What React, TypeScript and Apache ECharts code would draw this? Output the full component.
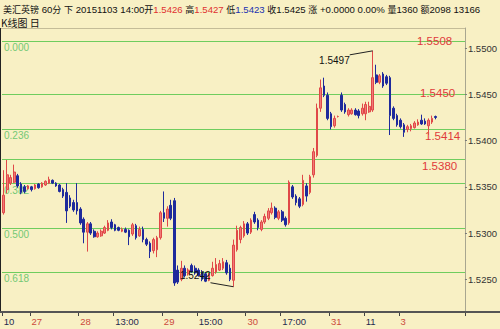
import React, { useEffect, useRef } from "react";
import * as echarts from "echarts";

// ---------- data ----------
const slotCount = 133;

const opens = [
  1.5322, 1.5347, 1.5354, 1.5355, 1.5362, 1.5353, 1.5350, 1.5348, 1.5350, 1.5348,
  1.5353, 1.5350, 1.5352, 1.5354, 1.5357, 1.5354, 1.5352, 1.5347, 1.5344, 1.5338,
  1.5333, 1.5333, 1.5326, 1.5315, 1.5301, 1.5310, 1.5302, 1.5296, 1.5297, 1.5300,
  1.5303, 1.5312, 1.5309, 1.5306, 1.5302, 1.5304, 1.5303, 1.5299, 1.5308, 1.5297,
  1.5304, 1.5293, 1.5289, 1.5281, 1.5282, 1.5295, 1.5322, 1.5316, 1.5330, 1.5335,
  1.5260, 1.5250, 1.5262, 1.5256, 1.5265, 1.5262, 1.5260, 1.5258, 1.5256, 1.5249,
  1.5254, 1.5258, 1.5260, 1.5262, 1.5268, 1.5262, 1.5249, 1.5282, 1.5293, 1.5297,
  1.5310, 1.5301, 1.5320, 1.5314, 1.5304, 1.5312, 1.5316, 1.5322, 1.5327, 1.5316,
  1.5323, 1.5316, 1.5311, 1.5350, 1.5340, 1.5337, 1.5331, 1.5351, 1.5344, 1.5363,
  1.5384, 1.5435, 1.5459, 1.5449, 1.5429, 1.5416, 1.5426, 1.5449, 1.5439, 1.5428,
  1.5429, 1.5433, 1.5432, 1.5429, 1.5429, 1.5431, 1.5433, 1.5471, 1.5463, 1.5472,
  1.5469, 1.5468, 1.5435, 1.5427, 1.5422, 1.5417, 1.5412, 1.5413, 1.5414, 1.5417,
  1.5422, 1.5421, 1.5416, 1.5420, 1.5426,
];
const closes = [
  1.5341, 1.5363, 1.5360, 1.5366, 1.5351, 1.5344, 1.5345, 1.5351, 1.5347, 1.5352,
  1.5349, 1.5354, 1.5356, 1.5358, 1.5354, 1.5351, 1.5345, 1.5340, 1.5324, 1.5329,
  1.5325, 1.5324, 1.5311, 1.5301, 1.5310, 1.5300, 1.5296, 1.5300, 1.5302, 1.5306,
  1.5311, 1.5306, 1.5303, 1.5303, 1.5304, 1.5301, 1.5296, 1.5309, 1.5295, 1.5304,
  1.5293, 1.5288, 1.5280, 1.5293, 1.5295, 1.5322, 1.5316, 1.5326, 1.5316, 1.5246,
  1.5247, 1.5262, 1.5254, 1.5260, 1.5258, 1.5257, 1.5254, 1.5250, 1.5248, 1.5255,
  1.5262, 1.5266, 1.5267, 1.5269, 1.5257, 1.5250, 1.5287, 1.5303, 1.5306, 1.5310,
  1.5300, 1.5314, 1.5312, 1.5306, 1.5312, 1.5318, 1.5324, 1.5327, 1.5317, 1.5323,
  1.5314, 1.5309, 1.5355, 1.5339, 1.5333, 1.5329, 1.5357, 1.5340, 1.5361, 1.5388,
  1.5435, 1.5457, 1.5449, 1.5424, 1.5415, 1.5424, 1.5426, 1.5433, 1.5431, 1.5433,
  1.5433, 1.5428, 1.5427, 1.5435, 1.5439, 1.5437, 1.5468, 1.5463, 1.5470, 1.5459,
  1.5462, 1.5427, 1.5424, 1.5417, 1.5415, 1.5409, 1.5415, 1.5416, 1.5419, 1.5420,
  1.5418, 1.5418, 1.5422, 1.5424, 1.5425,
];
const lows = [
  1.5320, 1.5343, 1.5352, 1.5354, 1.5349, 1.5342, 1.5343, 1.5347, 1.5345, 1.5347,
  1.5348, 1.5349, 1.5351, 1.5353, 1.5353, 1.5350, 1.5344, 1.5338, 1.5311, 1.5327,
  1.5323, 1.5320, 1.5309, 1.5289, 1.5280, 1.5298, 1.5295, 1.5295, 1.5296, 1.5299,
  1.5302, 1.5304, 1.5302, 1.5302, 1.5301, 1.5300, 1.5287, 1.5297, 1.5293, 1.5296,
  1.5290, 1.5286, 1.5273, 1.5278, 1.5274, 1.5293, 1.5312, 1.5307, 1.5314, 1.5243,
  1.5245, 1.5248, 1.5252, 1.5254, 1.5257, 1.5255, 1.5253, 1.5248, 1.5247, 1.5248,
  1.5253, 1.5256, 1.5259, 1.5260, 1.5255, 1.5248, 1.5242, 1.5280, 1.5289, 1.5295,
  1.5298, 1.5299, 1.5310, 1.5303, 1.5302, 1.5310, 1.5314, 1.5320, 1.5315, 1.5314,
  1.5312, 1.5307, 1.5309, 1.5337, 1.5330, 1.5327, 1.5329, 1.5334, 1.5342, 1.5360,
  1.5382, 1.5431, 1.5447, 1.5422, 1.5412, 1.5414, 1.5425, 1.5431, 1.5429, 1.5426,
  1.5428, 1.5427, 1.5424, 1.5427, 1.5422, 1.5430, 1.5431, 1.5461, 1.5461, 1.5457,
  1.5460, 1.5406, 1.5422, 1.5415, 1.5413, 1.5404, 1.5409, 1.5410, 1.5413, 1.5416,
  1.5417, 1.5417, 1.5406, 1.5418, 1.5423,
];
const highs = [
  1.5368, 1.5379, 1.5363, 1.5374, 1.5364, 1.5355, 1.5352, 1.5352, 1.5351, 1.5353,
  1.5354, 1.5355, 1.5357, 1.5361, 1.5358, 1.5355, 1.5353, 1.5349, 1.5354, 1.5341,
  1.5336, 1.5354, 1.5328, 1.5317, 1.5312, 1.5312, 1.5304, 1.5302, 1.5304, 1.5308,
  1.5314, 1.5315, 1.5310, 1.5307, 1.5306, 1.5306, 1.5304, 1.5311, 1.5310, 1.5307,
  1.5307, 1.5295, 1.5291, 1.5295, 1.5297, 1.5324, 1.5345, 1.5329, 1.5336, 1.5338,
  1.5265, 1.5270, 1.5265, 1.5262, 1.5267, 1.5265, 1.5262, 1.5260, 1.5258, 1.5257,
  1.5269, 1.5273, 1.5271, 1.5273, 1.5271, 1.5266, 1.5293, 1.5308, 1.5308, 1.5313,
  1.5312, 1.5316, 1.5323, 1.5316, 1.5314, 1.5321, 1.5327, 1.5333, 1.5329, 1.5325,
  1.5325, 1.5318, 1.5357, 1.5352, 1.5342, 1.5339, 1.5363, 1.5354, 1.5363, 1.5392,
  1.5440, 1.5466, 1.5468, 1.5452, 1.5431, 1.5427, 1.5427, 1.5452, 1.5441, 1.5435,
  1.5435, 1.5435, 1.5434, 1.5440, 1.5442, 1.5442, 1.5497, 1.5482, 1.5472, 1.5474,
  1.5471, 1.5470, 1.5437, 1.5429, 1.5424, 1.5419, 1.5417, 1.5418, 1.5421, 1.5423,
  1.5428, 1.5424, 1.5424, 1.5427, 1.5427,
];

const xLabelIndex = [0, 8, 22, 32, 46, 56, 70, 80, 94, 104, 114];
const xLabelText = ["10", "27", "28", "13:00", "29", "15:00", "30", "17:00", "31", "11", "3"];
const xLabelIsDate = [false, true, true, false, true, false, true, false, true, false, true];

const fibValues = [1.5508, 1.5413, 1.5354, 1.5306, 1.5258];
const fibNames = ["0.000", "0.236", "0.382", "0.500", "0.618"];
const extraLevels = [1.545, 1.538];
const priceTags = ["1.5508", "1.5450", "1.5414", "1.5380"];
const priceTagValues = [1.5508, 1.545, 1.5414, 1.538];

const yMin = 1.52147;
const yMax = 1.55217;

const qName = "美汇英镑";
const qPeriod = "60";
const qDate = "20151103";
const qTime = "14:00";
const qOpen = "1.5426";
const qHigh = "1.5427";
const qLow = "1.5423";
const qClose = "1.5425";
const qChange = "+0.0000";
const qPct = "0.00%";
const qVol = "1360";
const qAmt = "2098";
const qExtra = "13166";

// ---------- styles ----------
const BG = "#f8f0c4";
const UP = "#f07a78";
const UP_BORDER = "#e04848";
const DOWN = "#1e2a9c";
const GREEN = "#6fcd5e";
const FIB_TEXT = "#74c874";
const TAG_RED = "#e03a3a";
const LATIN = '"Liberation Sans", Arial, sans-serif';
const CJK = '"Noto Sans CJK SC", sans-serif';
const tagDx = [-48, -45, -40, -43];
const tagDy = [0, -1, 8, 7];

export default function App() {
  const ref = useRef<HTMLDivElement>(null);

  useEffect(() => {
    if (!ref.current) return;
    const chart = echarts.init(ref.current, null, { renderer: "svg", width: 500, height: 329 });
    const labelMap = new Map<number, number>();
    xLabelIndex.forEach((idx, k) => labelMap.set(idx, k));
    const categories = Array.from({ length: slotCount }, (_, i) =>
      labelMap.has(i) ? xLabelText[labelMap.get(i)!] : "s" + i
    );
    const candleData = opens.map((o, i) => [o, closes[i], lows[i], highs[i]]);

    chart.setOption({
      animation: false,
      backgroundColor: BG,
      grid: { left: 2, right: 35, top: 28, bottom: 17 },
      xAxis: {
        type: "category",
        data: categories,
        boundaryGap: true,
        axisLine: { show: true, lineStyle: { color: "#555", width: 2 } },
        axisTick: {
          show: true,
          alignWithLabel: false,
          interval: (i: number) => labelMap.has(i),
          length: 4,
          lineStyle: { color: "#444" },
        },
        axisLabel: {
          interval: (i: number) => labelMap.has(i),
          align: "left",
          margin: 4,
          fontSize: 9.5,
          fontFamily: LATIN,
          formatter: (_v: string, i: number) => {
            const k = labelMap.get(i);
            if (k === undefined) return "";
            return xLabelIsDate[k] ? `{r|${xLabelText[k]}}` : `{d|${xLabelText[k]}}`;
          },
          rich: {
            r: { color: "#cc4a3c", fontSize: 9.5, fontFamily: LATIN },
            d: { color: "#1e2a50", fontSize: 9.5, fontFamily: LATIN },
          },
        },
        splitLine: { show: false },
      },
      yAxis: {
        type: "value",
        position: "right",
        min: yMin,
        max: yMax,
        scale: true,
        axisLine: { show: true, lineStyle: { color: "#a8a690", width: 1 } },
        axisTick: { show: true, length: 2, lineStyle: { color: "#777" } },
        splitLine: { show: false },
        axisLabel: {
          showMinLabel: false,
          showMaxLabel: false,
          margin: 3,
          fontSize: 9.5,
          fontFamily: LATIN,
          color: "#333",
          padding: [8, 0, 0, 0],
          formatter: (v: number) =>
            Math.abs(v * 200 - Math.round(v * 200)) < 1e-6 ? v.toFixed(4) : "",
        },
      },
      series: [
        {
          type: "candlestick",
          data: candleData,
          barWidth: "62%",
          z: 3,
          itemStyle: {
            color: UP,
            color0: DOWN,
            borderColor: UP_BORDER,
            borderColor0: DOWN,
            borderWidth: 1,
          },
        },
      ],
    });

    const toPx = (i: number, v: number) =>
      chart.convertToPixel({ gridIndex: 0 }, [i, v]) as number[];
    const gl = 2;
    const gr = 465;
    const gt = 28;
    const gb = 312;
    const els: any[] = [];

    // level lines
    [...fibValues, ...extraLevels].forEach((v) => {
      const y = Math.round(toPx(0, v)[1]) + 0.5;
      els.push({ type: "line", z: 1, shape: { x1: gl, y1: y, x2: gr, y2: y }, style: { stroke: GREEN, lineWidth: 1 } });
    });
    fibValues.forEach((v, k) => {
      const y = toPx(0, v)[1];
      els.push({
        type: "text", z: 1, x: 4, y: y + 7,
        style: { text: fibNames[k], fill: FIB_TEXT, font: `10px ${LATIN}`, textAlign: "left", textVerticalAlign: "middle", align: "left", verticalAlign: "middle" },
      });
    });
    priceTagValues.forEach((v, k) => {
      const y = toPx(0, v)[1];
      els.push({
        type: "text", z: 1, x: gr + tagDx[k], y: y + tagDy[k],
        style: { text: priceTags[k], fill: TAG_RED, font: `11.5px ${LATIN}`, textAlign: "left", textVerticalAlign: "middle", align: "left", verticalAlign: "middle" },
      });
    });

    // annotations for extreme points
    let hiIdx = 0;
    let loIdx = 0;
    highs.forEach((h, i) => { if (h > highs[hiIdx]) hiIdx = i; });
    lows.forEach((l, i) => { if (l < lows[loIdx]) loIdx = i; });
    const hp = toPx(hiIdx, highs[hiIdx]);
    const lp = toPx(loIdx, lows[loIdx]);
    els.push({ type: "line", z: 5, shape: { x1: hp[0] - 23, y1: hp[1] + 4, x2: hp[0], y2: hp[1] }, style: { stroke: "#222", lineWidth: 1 } });
    els.push({
      type: "text", z: 5, x: hp[0] - 23, y: hp[1] + 10,
      style: { text: highs[hiIdx].toFixed(4), fill: "#111", font: `10px ${LATIN}`, textAlign: "right", textVerticalAlign: "middle", align: "right", verticalAlign: "middle" },
    });
    els.push({ type: "line", z: 5, shape: { x1: lp[0] - 23, y1: lp[1] - 4, x2: lp[0], y2: lp[1] }, style: { stroke: "#222", lineWidth: 1 } });
    els.push({
      type: "text", z: 5, x: lp[0] - 23, y: lp[1] - 11,
      style: { text: lows[loIdx].toFixed(4), fill: "#111", font: `10px ${LATIN}`, textAlign: "right", textVerticalAlign: "middle", align: "right", verticalAlign: "middle" },
    });

    // frame
    els.push({ type: "line", z: 1, shape: { x1: 0, y1: gt + 0.5, x2: gr, y2: gt + 0.5 }, style: { stroke: "#c4bc98", lineWidth: 1 } });
    els.push({ type: "line", z: 1, shape: { x1: 0.5, y1: gt, x2: 0.5, y2: gb }, style: { stroke: "#222", lineWidth: 1 } });
    els.push({ type: "line", z: 1, shape: { x1: 0, y1: gb, x2: 500, y2: gb }, style: { stroke: "#555", lineWidth: 2 } });

    // header
    const title =
      `{c|${qName}} ${qPeriod}{c|分} {c|下} ${qDate} ${qTime}{c|开}{r|${qOpen}} {c|高}{r|${qHigh}} {c|低}{b|${qLow}} {c|收}${qClose} {c|涨} ${qChange} ${qPct} {c|量}${qVol} {c|额}${qAmt} ${qExtra}`;
    els.push({
      type: "text", z: 5, x: 3, y: 9,
      style: {
        text: title,
        fill: "#111",
        font: `9.6px ${LATIN}`,
        textVerticalAlign: "middle",
        verticalAlign: "middle",
        rich: {
          c: { fontFamily: CJK, fontSize: 9, fill: "#111", color: "#111" },
          r: { fill: "#e03030", color: "#e03030", fontSize: 9.6, fontFamily: LATIN },
          b: { fill: "#2030b0", color: "#2030b0", fontSize: 9.6, fontFamily: LATIN },
        },
      },
    });
    els.push({
      type: "text", z: 5, x: 1, y: 22,
      style: { text: "K线图 日", fill: "#111", font: `10px ${CJK}`, textVerticalAlign: "middle", verticalAlign: "middle" },
    });

    chart.setOption({ graphic: { elements: els } });

    return () => chart.dispose();
  }, []);

  return (
    <div
      ref={ref}
      style={{ position: "fixed", left: 0, top: 0, width: 500, height: 329 }}
    />
  );
}
